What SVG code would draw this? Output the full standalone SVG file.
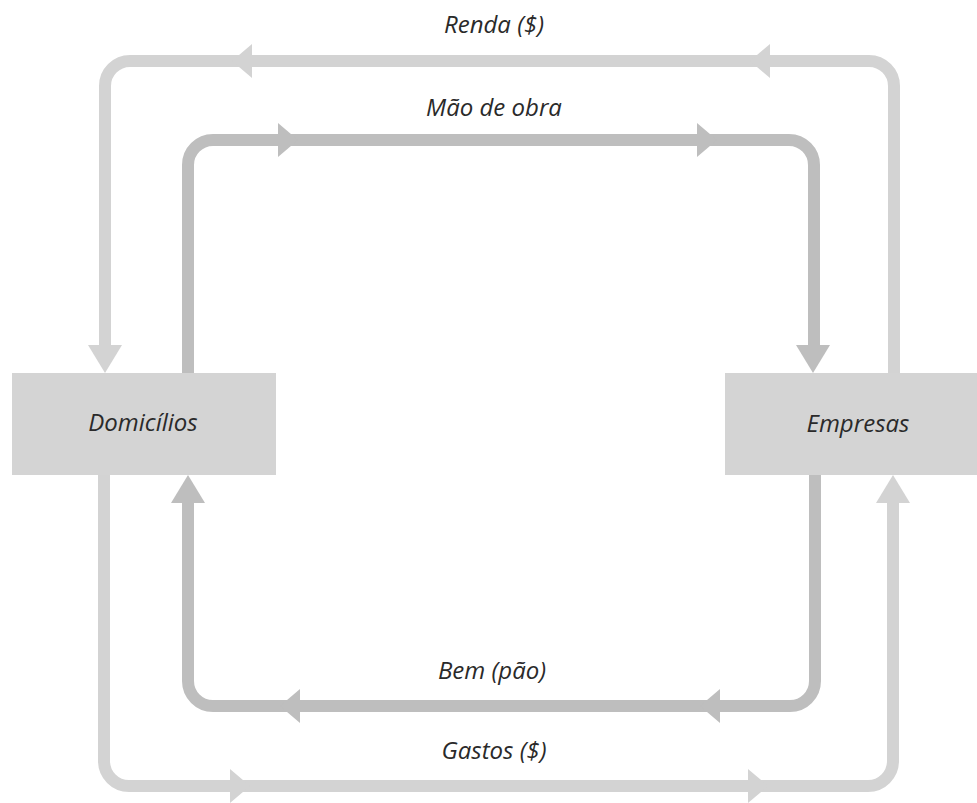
<svg xmlns="http://www.w3.org/2000/svg" xmlns:xlink="http://www.w3.org/1999/xlink" width="977" height="803" viewBox="0 0 977 803">
<style>
.outer{fill:none;stroke:#d3d3d3;stroke-width:12}
.inner{fill:none;stroke:#bebebe;stroke-width:12}
.ho{fill:#d3d3d3}
.hi{fill:#bebebe}
.box{fill:#d4d4d4}
text{font-family:"Open Sans","Lato","DejaVu Sans",sans-serif;font-style:italic;fill:#2a2a2a;text-anchor:middle}
.lbl{font-size:24px}
.node{font-size:24px}
</style>
<defs>
<path id="ah" d="M0,0 L-20,-17 L-20,17 Z"/>
<path id="ab" d="M0,0 L-28,-17 L-28,17 Z"/>
</defs>
<rect width="977" height="803" fill="#ffffff"/>
<g id="connectors">
<path class="outer" d="M894,373 V86 A25,25 0 0 0 869,61 H130 A25,25 0 0 0 105,86 V350"/>
<path class="inner" d="M188,373 V165 A25,25 0 0 1 213,140 H789 A25,25 0 0 1 814,165 V350"/>
<path class="inner" d="M815,475 V681 A25,25 0 0 1 790,706 H213 A25,25 0 0 1 188,681 V500"/>
<path class="outer" d="M104,475 V761 A25,25 0 0 0 129,786 H868 A25,25 0 0 0 893,761 V500"/>
<use href="#ah" class="ho" transform="translate(232,61) rotate(180)"/>
<use href="#ah" class="ho" transform="translate(750,61) rotate(180)"/>
<use href="#ah" class="hi" transform="translate(298,140)"/>
<use href="#ah" class="hi" transform="translate(717,140)"/>
<use href="#ah" class="hi" transform="translate(280,706) rotate(180)"/>
<use href="#ah" class="hi" transform="translate(700,706) rotate(180)"/>
<use href="#ah" class="ho" transform="translate(250,786)"/>
<use href="#ah" class="ho" transform="translate(768,786)"/>
<use href="#ab" class="ho" transform="translate(105,373) rotate(90)"/>
<use href="#ab" class="hi" transform="translate(813,373) rotate(90)"/>
<use href="#ab" class="hi" transform="translate(188,475) rotate(-90)"/>
<use href="#ab" class="ho" transform="translate(893,475) rotate(-90)"/>
<text class="lbl" x="494" y="33">Renda ($)</text>
<text class="lbl" x="494" y="116">Mão de obra</text>
<text class="lbl" x="492" y="679">Bem (pão)</text>
<text class="lbl" x="494" y="759">Gastos ($)</text>
</g>
<g id="domicilios">
<rect class="box" x="12" y="373" width="264" height="102"/>
<text class="node" x="143" y="431">Domicílios</text>
</g>
<g id="empresas">
<rect class="box" x="725" y="373" width="252" height="102"/>
<text class="node" x="858" y="432">Empresas</text>
</g>
</svg>
